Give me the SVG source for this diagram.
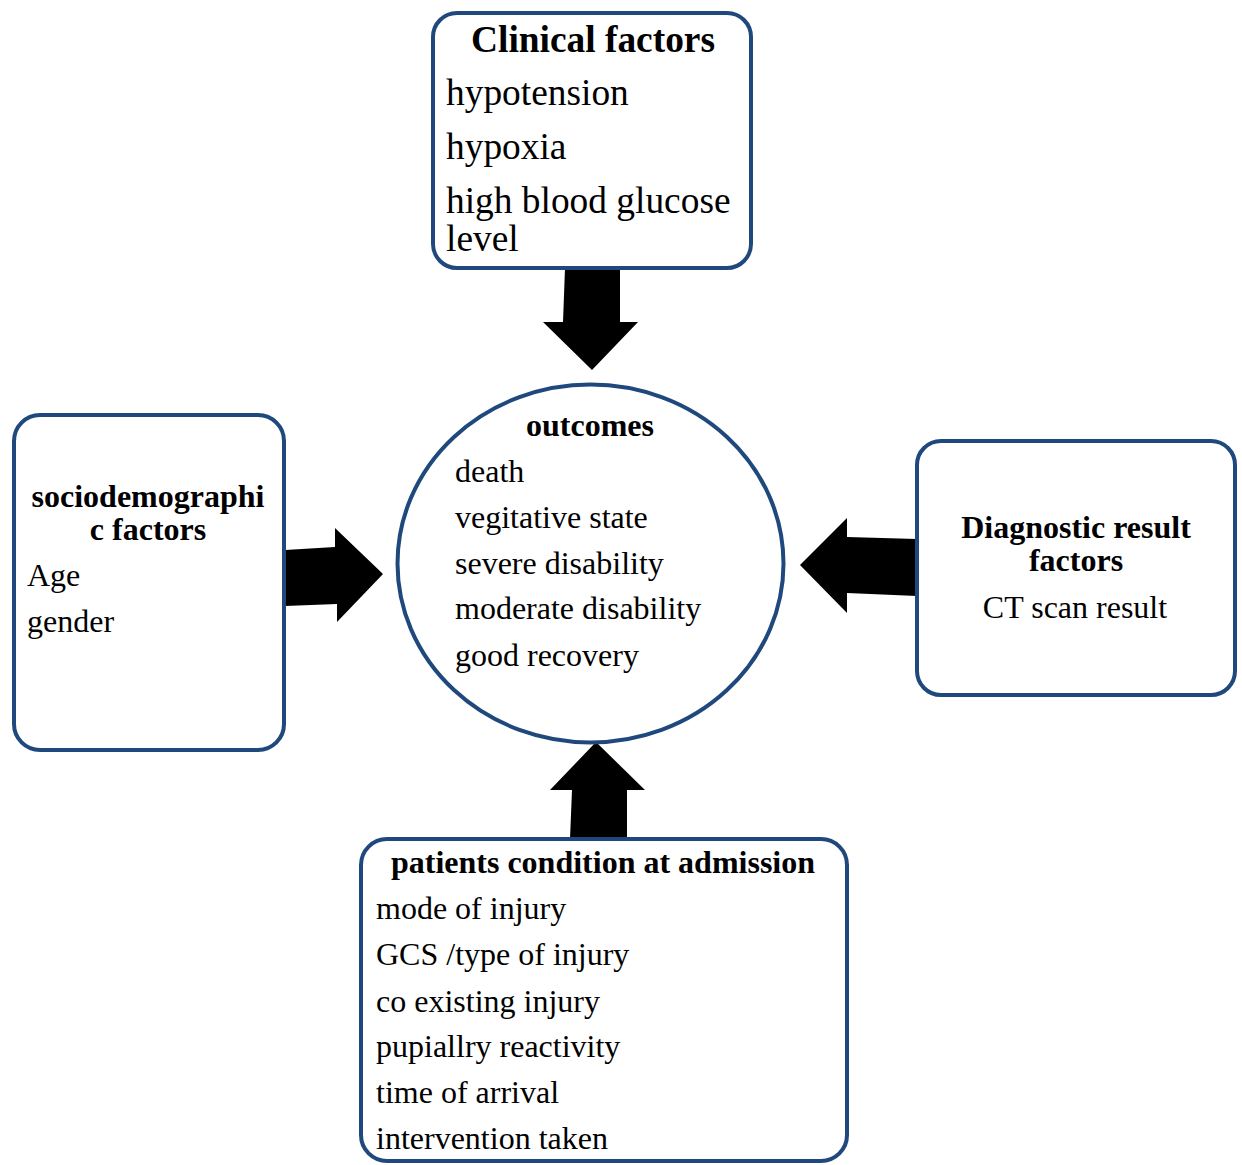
<svg xmlns="http://www.w3.org/2000/svg" width="1242" height="1165" viewBox="0 0 1242 1165">
<style>
.box{fill:#fff;stroke:#1F497D;stroke-width:4}
.t{font-family:"Liberation Serif","Times New Roman",serif;font-size:32px;fill:#000}
.big{font-size:37.4px}
.b{font-weight:bold}
.c{text-anchor:middle}
.arr{fill:#000;stroke:none}
</style>
<rect width="1242" height="1165" fill="#fff"/>
<g id="connectors">
<polygon class="arr" points="565,268 620,268 620,322 638,322 592,370 543,322 563,322"/>
<polygon class="arr" points="285,550 335,547 335,528 383,574 337,622 337,604 285,606"/>
<polygon class="arr" points="917,539 847,537 847,518 800,565 847,613 847,593 917,596"/>
<polygon class="arr" points="570,839 627,839 627,790 645,790 596,742 550,790 572,790"/>
</g>
<g id="clinical">
<rect class="box" x="433" y="13" width="318" height="255" rx="24"/>
<text class="t big b c" x="593" y="52">Clinical factors</text>
<text class="t big" x="446" y="105">hypotension</text>
<text class="t big" x="446" y="159">hypoxia</text>
<text class="t big" x="446" y="213">high blood glucose</text>
<text class="t big" x="446" y="251">level</text>
</g>
<g id="outcomes">
<ellipse class="box" cx="590.5" cy="563.5" rx="193" ry="179"/>
<text class="t b c" x="590" y="436">outcomes</text>
<text class="t" x="455" y="482">death</text>
<text class="t" x="455" y="528">vegitative state</text>
<text class="t" x="455" y="574">severe disability</text>
<text class="t" x="455" y="619">moderate disability</text>
<text class="t" x="455" y="666">good recovery</text>
</g>
<g id="sociodemographic">
<rect class="box" x="14" y="415" width="270" height="335" rx="26"/>
<text class="t b c" x="148" y="507">sociodemographi</text>
<text class="t b c" x="148" y="540">c factors</text>
<text class="t" x="27" y="586">Age</text>
<text class="t" x="27" y="632">gender</text>
</g>
<g id="diagnostic">
<rect class="box" x="917" y="441" width="318" height="254" rx="24"/>
<text class="t b c" x="1076" y="538">Diagnostic result</text>
<text class="t b c" x="1076" y="571">factors</text>
<text class="t c" x="1075" y="618">CT scan result</text>
</g>
<g id="admission">
<rect class="box" x="361" y="839" width="486" height="322" rx="26"/>
<text class="t b c" x="603" y="873">patients condition at admission</text>
<text class="t" x="376" y="919">mode of injury</text>
<text class="t" x="376" y="965">GCS /type of injury</text>
<text class="t" x="376" y="1012">co existing injury</text>
<text class="t" x="376" y="1057">pupiallry reactivity</text>
<text class="t" x="376" y="1103">time of arrival</text>
<text class="t" x="376" y="1149">intervention taken</text>
</g>
</svg>
